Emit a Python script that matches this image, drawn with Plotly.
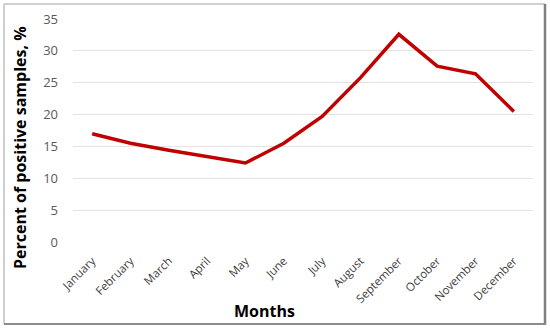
import plotly.graph_objects as go

months = ["January", "February", "March", "April", "May", "June", "July",
          "August", "September", "October", "November", "December"]
percent_positive = [17.0, 15.5, 14.4, 13.4, 12.4, 15.5, 19.7, 25.8, 32.6, 27.6, 26.4, 20.5]
y_ticks = [0, 5, 10, 15, 20, 25, 30, 35]

W, H = 550, 330
ML, MR, MT, MB = 73, 17, 19, 88
pw, ph = W - ML - MR, H - MT - MB

def px(x):
    return (x - ML) / pw

def py(y):
    return 1 - (y - MT) / ph

fig = go.Figure()
fig.add_trace(go.Scatter(
    x=months, y=percent_positive, mode="lines",
    line=dict(color="#c00000", width=3.5),
    showlegend=False,
))

font = "Open Sans, Liberation Sans, sans-serif"
fig.update_layout(
    width=W, height=H,
    margin=dict(l=ML, r=MR, t=MT, b=MB, autoexpand=False),
    paper_bgcolor="white", plot_bgcolor="white",
    font=dict(family=font, color="#404040"),
    xaxis=dict(
        range=[-0.5, 11.5], automargin=False,
        tickangle=-45, tickfont=dict(size=11.5, color="#404040"),
        showgrid=False, showline=False, ticks="", ticklabelstandoff=9,
    ),
    yaxis=dict(
        range=[0, 35], tickvals=y_ticks, tickfont=dict(size=13, color="#595959"),
        showgrid=True, gridcolor="#e3e3e3", gridwidth=1, zeroline=False,
        showline=False, ticks="", ticklabelstandoff=14, automargin=False,
    ),
    annotations=[
        dict(text="<b>Months</b>", xref="paper", yref="paper", x=px(264), y=py(311),
             xanchor="center", yanchor="middle", showarrow=False,
             font=dict(size=16, color="#000000")),
        dict(text="<b>Percent of positive samples, %</b>", xref="paper", yref="paper",
             x=px(20), y=py(148), xanchor="center", yanchor="middle", showarrow=False,
             textangle=-90, font=dict(size=16, color="#000000")),
    ],
    shapes=[
        dict(type="line", xref="paper", yref="paper", x0=px(4), x1=px(545), y0=py(4), y1=py(4),
             line=dict(color="#bfbfbf", width=1.5)),
        dict(type="line", xref="paper", yref="paper", x0=px(4), x1=px(4), y0=py(4), y1=py(324),
             line=dict(color="#bfbfbf", width=1.5)),
        dict(type="line", xref="paper", yref="paper", x0=px(545), x1=px(545), y0=py(4), y1=py(325),
             line=dict(color="#7f7f7f", width=2.5)),
        dict(type="line", xref="paper", yref="paper", x0=px(4), x1=px(546), y0=py(324), y1=py(324),
             line=dict(color="#8c8c8c", width=2)),
    ],
)

fig.write_html("out.html", config={"displayModeBar": False},
               post_script="document.body.style.margin='0px';")
